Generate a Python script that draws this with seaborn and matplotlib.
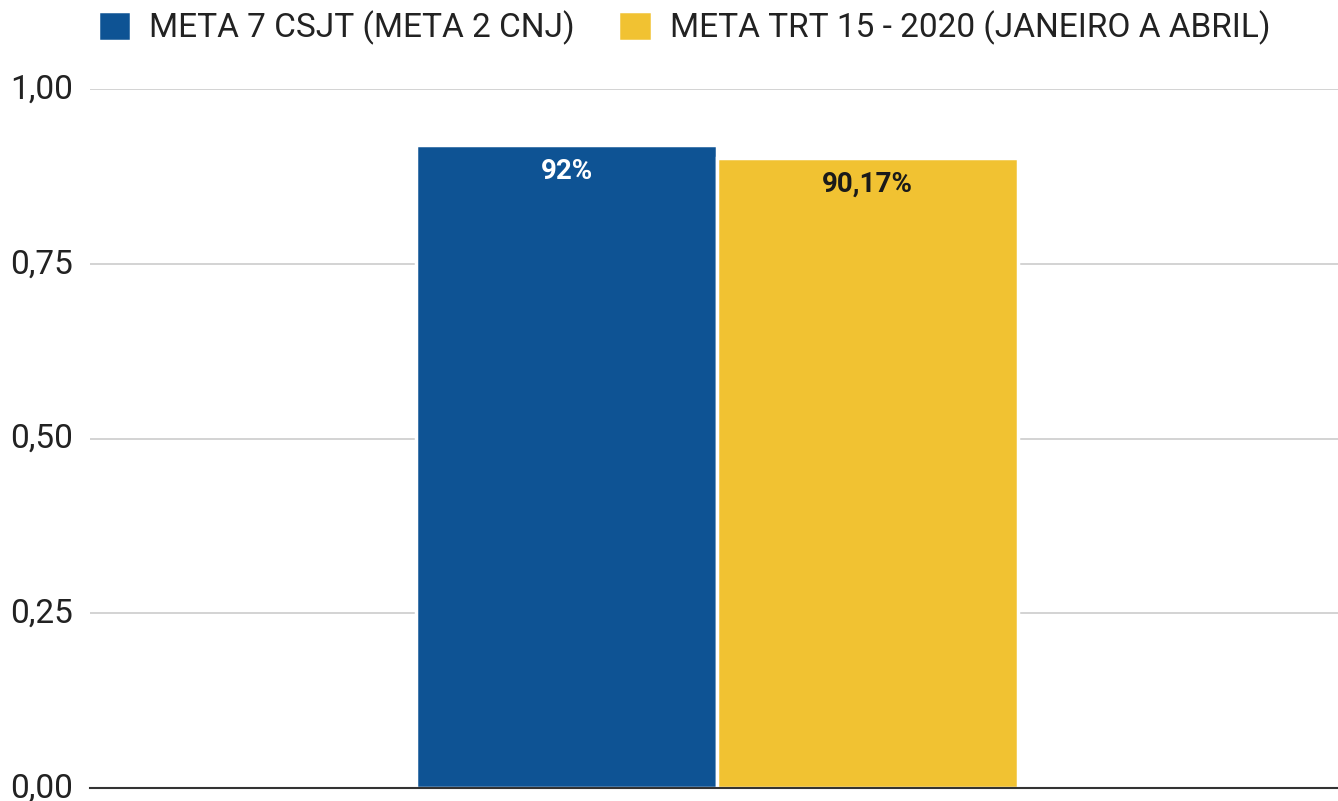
import matplotlib
matplotlib.use("Agg")
import matplotlib.pyplot as plt
import matplotlib.transforms as mtransforms
import seaborn as sns
import pandas as pd
from matplotlib.ticker import FuncFormatter

series = ["META 7 CSJT (META 2 CNJ)", "META TRT 15 - 2020 (JANEIRO A ABRIL)"]
values = [0.92, 0.9017]
labels = ["92%", "90,17%"]
colors = ["#0E5394", "#F1C232"]
label_colors = ["white", "#1a1a1a"]
yticks = [0.0, 0.25, 0.5, 0.75, 1.0]

sns.set_style("white")
plt.rcParams["font.family"] = ["Roboto", "DejaVu Sans"]

df = pd.DataFrame({"grupo": [""] * len(series), "serie": series, "valor": values})

fig = plt.figure(figsize=(13.38, 8.01), dpi=100)
ax = fig.add_axes([0.0673, 0.0162, 0.9327, 0.8727])

sns.barplot(data=df, x="grupo", y="valor", hue="serie", palette=colors,
            width=0.482, edgecolor="white", linewidth=2.5, saturation=1,
            ax=ax, legend=True)

for patch, lab, col in zip(ax.patches, labels, label_colors):
    x = patch.get_x() + patch.get_width() / 2
    ax.annotate(lab, (x, patch.get_height()), xytext=(0, -19),
                textcoords="offset points", ha="center", va="center",
                fontsize=20, fontweight="bold", color=col)

ax.set_ylim(0, 1.0)
ax.set_xlim(-0.5024, 0.4976)
ax.set_yticks(yticks)
ax.yaxis.set_major_formatter(FuncFormatter(lambda v, p: f"{v:.2f}".replace(".", ",")))
ax.tick_params(axis="y", length=0, labelsize=24, colors="#222222", pad=12)
ax.set_xticks([])
ax.set_xlabel("")
ax.set_ylabel("")
ax.grid(axis="y", color="#cccccc", linewidth=1.2)
ax.set_axisbelow(True)
for s in ["top", "right", "left"]:
    ax.spines[s].set_visible(False)
ax.spines["bottom"].set_color("#333333")
ax.spines["bottom"].set_linewidth(1.5)

# tick labels sit a few pixels above their gridlines in the original
nudge = mtransforms.ScaledTranslation(0, 3 / 100, fig.dpi_scale_trans)
for t in ax.get_yticklabels():
    t.set_transform(t.get_transform() + nudge)

handles, labs = ax.get_legend_handles_labels()
ax.legend(handles, labs, loc="upper center", bbox_to_anchor=(0.476, 1.155), ncol=2,
          frameon=False, fontsize=24, handlelength=1.0, handleheight=1.0,
          handletextpad=0.55, columnspacing=1.3, labelcolor="#222222")

fig.savefig("out.png", dpi=100)
